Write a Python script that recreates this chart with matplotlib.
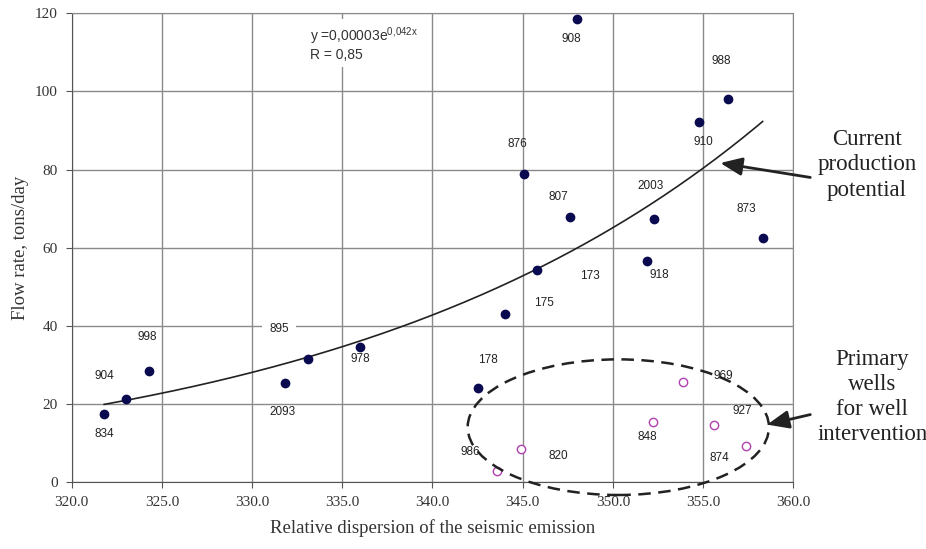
import numpy as np
import matplotlib
matplotlib.use("Agg")
import matplotlib.pyplot as plt
from matplotlib.patches import Ellipse

# wells on the trend (filled) and candidate wells (open)
x_act = [321.8, 323.0, 324.3, 331.8, 333.1, 336.0, 342.5, 344.0, 345.8, 345.1,
         347.6, 348.0, 351.9, 352.3, 354.8, 356.4, 358.3]
y_act = [17.4, 21.2, 28.5, 25.5, 31.6, 34.7, 24.2, 43.1, 54.3, 79.0,
         68.0, 118.6, 56.5, 67.4, 92.2, 98.0, 62.5]

x_cand = [343.6, 344.9, 352.2, 353.9, 355.6, 357.4]
y_cand = [3.0, 8.4, 15.3, 25.7, 14.7, 9.3]

# well numbers and where they are written
nomes = ["904", "998", "834", "895", "2093", "978", "908", "988", "876", "910",
         "807", "2003", "873", "173", "175", "918", "178", "969", "927", "848",
         "874", "986", "820"]
nomes_x = [321.8, 324.2, 321.8, 331.5, 331.7, 336.0, 347.7, 356.0, 344.7, 355.0,
           347.0, 352.1, 357.4, 348.7, 346.2, 352.6, 343.1, 356.1, 357.2, 351.9,
           355.9, 342.1, 347.0]
nomes_y = [27.1, 37.1, 12.3, 39.1, 18.0, 31.5, 113.4, 107.7, 86.6, 87.1,
           73.0, 75.8, 69.9, 52.9, 45.8, 53.1, 31.3, 27.1, 18.2, 11.6,
           6.2, 7.7, 6.7]

# trend y = a*exp(b*x)
a_trend = 2.69e-5
b_trend = 0.042
x_trend = np.linspace(321.8, 358.3, 200)

serif = "Liberation Serif"
sans = "Liberation Sans"
plt.rcParams["mathtext.fontset"] = "custom"
plt.rcParams["mathtext.rm"] = sans

fig = plt.figure(figsize=(9.26, 5.49), dpi=100)
ax = fig.add_axes([0.0774, 0.1215, 0.7793, 0.8543])

ax.set_xlim(320, 360)
ax.set_ylim(0, 120)
ax.set_xticks(np.arange(320, 361, 5))
ax.set_yticks(np.arange(0, 121, 20))
ax.set_xticklabels(["%.1f" % v for v in np.arange(320, 361, 5)], family=serif, fontsize=11, color="#333333")
ax.set_yticklabels([str(v) for v in range(0, 121, 20)], family=serif, fontsize=11, color="#333333")
ax.grid(True, color="#8a8a8a", linewidth=1.0)
ax.set_axisbelow(True)
for s in ax.spines.values():
    s.set_color("#8a8a8a")
ax.spines["left"].set_color("#555555")
ax.spines["bottom"].set_color("#555555")
ax.tick_params(length=4, color="#555555", pad=6)

ax.plot(x_trend, a_trend * np.exp(b_trend * x_trend), color="#222222", linewidth=1.2, zorder=3)
ax.plot(x_act, y_act, "o", color="#0a0a50", markersize=6, zorder=4)
ax.plot(x_cand, y_cand, "o", markerfacecolor="white", markeredgecolor="#b040b0",
        markersize=6, markeredgewidth=1.0, zorder=4)

for n, xx, yy in zip(nomes, nomes_x, nomes_y):
    kw = {}
    if n == "895":
        kw["bbox"] = dict(facecolor="white", edgecolor="none", pad=5)
    ax.text(xx, yy, n, family=sans, fontsize=8.5, color="#222222",
            ha="center", va="center", zorder=5, **kw)

ax.text(333.2, 116.8, r"y =0,00003e$^{\mathregular{0{,}042x}}$" + "\nR = 0,85", family=sans, fontsize=10,
        color="#333333", ha="left", va="top", linespacing=1.1,
        bbox=dict(facecolor="white", edgecolor="none", pad=3), zorder=5)

ell = Ellipse((350.3, 14.1), 16.7, 34.7, fill=False, linestyle=(0, (5, 3)),
              linewidth=1.8, edgecolor="#222222", clip_on=False, zorder=5)
ax.add_patch(ell)

ax.set_xlabel("Relative dispersion of the seismic emission", family=serif, fontsize=13.5, color="#333333", labelpad=7)
ax.set_ylabel("Flow rate, tons/day", family=serif, fontsize=13.5, color="#333333", labelpad=4)

ax.annotate("", xy=(355.8, 81.8), xytext=(0.878, 0.676), textcoords="figure fraction",
            arrowprops=dict(arrowstyle="-|>,head_length=0.6,head_width=0.25", color="#222222", lw=2.0, mutation_scale=22))
fig.text(0.936, 0.70, "Current\nproduction\npotential", family=serif, fontsize=16.5,
         color="#222222", ha="center", va="center", linespacing=1.27)

ax.annotate("", xy=(358.4, 14.6), xytext=(0.878, 0.246), textcoords="figure fraction",
            arrowprops=dict(arrowstyle="-|>,head_length=0.6,head_width=0.25", color="#222222", lw=2.0, mutation_scale=22))
fig.text(0.942, 0.277, "Primary\nwells\nfor well\nintervention", family=serif, fontsize=16.5,
         color="#222222", ha="center", va="center", linespacing=1.25)

fig.savefig("out.png", dpi=100)
